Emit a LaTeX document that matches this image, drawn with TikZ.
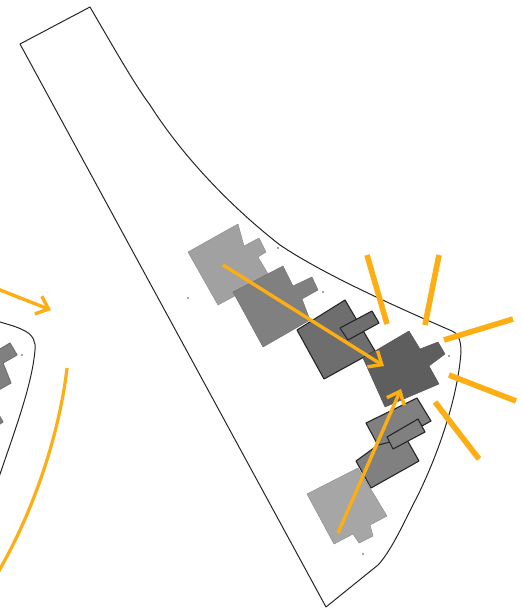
\documentclass[tikz,border=0pt]{standalone}
\usetikzlibrary{arrows.meta}
\definecolor{ora}{HTML}{FCAE14}
\tikzset{
  x=1pt,y=-1pt,
  outline/.style={draw=black!85,line width=1pt,line join=round},
  light/.style={fill=black!37,draw=black!44,line width=0.5pt,line join=round},
  mid/.style={fill=black!50,draw=black!55,line width=0.5pt,line join=round},
  darkb/.style={fill=black!57,draw=black!85,line width=1.1pt,line join=round},
  midb/.style={fill=black!50,draw=black!85,line width=1.1pt,line join=round},
  deep/.style={fill=black!63,draw=black!66,line width=0.5pt,line join=round},
  ray/.style={draw=ora,line width=5.6pt},
  arr/.style={draw=ora,line width=3.4pt,-{Straight Barb[length=11pt,width=19pt,line width=3.4pt]}},
  arc/.style={draw=ora,line width=3.2pt},
  speck/.style={fill=black!70,circle,inner sep=0.6pt}
}
\begin{document}
\begin{tikzpicture}
\useasboundingbox (0,0) rectangle (520,611);
% main plot outline
\draw[outline] (20,44) -- (90,7)
  .. controls (115,50) and (135,85) .. (150,105)
  .. controls (185,160) and (235,210) .. (280,245)
  .. controls (320,272) and (385,302) .. (452,331)
  .. controls (458,333) and (461,340) .. (461,352)
  .. controls (458,395) and (440,450) .. (418,495)
  .. controls (405,520) and (392,550) .. (378,565)
  -- (326,607) -- cycle;
% left neighbouring plot
\begin{scope}
\clip (0,0) rectangle (520,611);
\draw[outline] (-5,320) -- (0,322) .. controls (10,325) and (18,327) .. (25,331)
  .. controls (33,335) and (36,342) .. (35,350)
  .. controls (32,385) and (15,430) .. (-2,480);
\draw[midb,draw=black!55] (-5,352) -- (10,343) -- (17,355) -- (3,363) -- (11,383) -- (-5,392) -- cycle;
\draw[midb,draw=black!55] (-5,410) -- (-1,415) -- (3,422) -- (-5,427) -- cycle;
\draw[arc] (67,368) .. controls (60,430) and (35,510) .. (-3,574);
\draw[arr] (-5,288) -- (51,310);
\end{scope}
% buildings
\draw[light] (238,224) -- (188,252) -- (218,305) -- (270,277) -- (258,257) -- (266,252) -- (259,238) -- (244,246) -- cycle;
\draw[mid] (283,266) -- (233,292) -- (263,347) -- (310,320) -- (302,299) -- (318,290) -- (312,277) -- (293,286) -- cycle;
\draw[darkb] (345,300) -- (297,330) -- (324,379) -- (375,351) -- cycle;
\draw[darkb] (372,311) -- (379,323) -- (348,340) -- (340,328) -- cycle;
\draw[midb] (417,398) -- (366,423) -- (380,449) -- (431,421) -- cycle;
\draw[midb] (378,445) -- (356,461) -- (371,488) -- (419,461) -- (406,438) -- cycle;
\draw[midb] (418,419) -- (425,432) -- (393,449) -- (387,437) -- cycle;
\draw[deep] (409,331) -- (363,358) -- (385,407) -- (439,384) -- (429,366) -- (445,354) -- (438,342) -- (420,349) -- cycle;
\draw[light,fill=black!35] (307,494) -- (358,468) -- (387,516) -- (370,525) -- (373,536) -- (359,543) -- (353,534) -- (334,544) -- cycle;
% specks
\node[speck] (s1) at (188,298) {};
\node[speck] (s2) at (278,248) {};
\node[speck] (s3) at (323,292) {};
\node[speck] (s4) at (449,356) {};
\node[speck] (s5) at (363,554) {};
\node[speck] (s6) at (22,355) {};
% orange arrows
\draw[arr] (223,265) -- (384,366);
\draw[arr] (338,533) -- (401,389);
% rays
\draw[ray] (367,255) -- (387,324);
\draw[ray] (439,255) -- (425,325);
\draw[ray] (513,319) -- (444,340);
\draw[ray] (516,401) -- (449,375);
\draw[ray] (479,459) -- (435,402);
\end{tikzpicture}
\end{document}
